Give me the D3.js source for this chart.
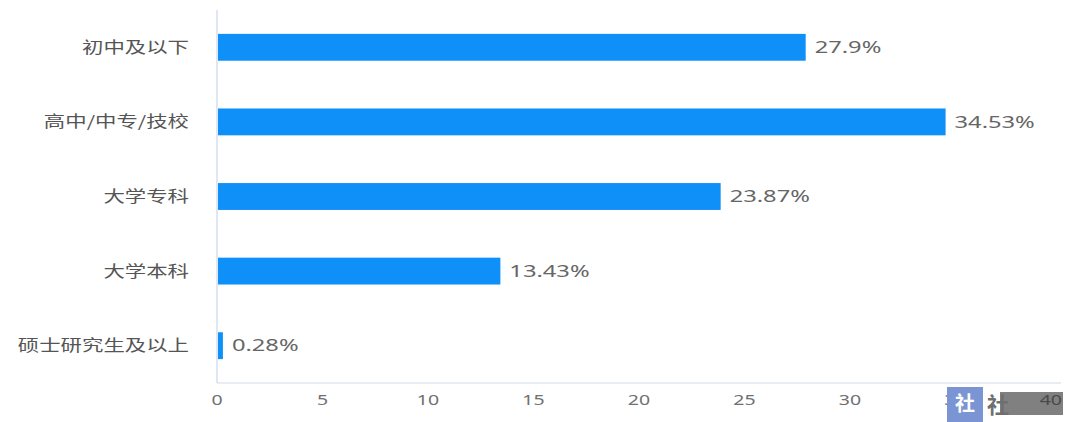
<!DOCTYPE html>
<html><head><meta charset="utf-8">
<script src="https://cdn.jsdelivr.net/npm/d3@7"></script>
<style>html,body{margin:0;padding:0;background:#fff;}svg{display:block;}</style>
</head><body>
<svg id="c" width="1080" height="422"></svg>
<script>
const categories = ["初中及以下","高中/中专/技校","大学专科","大学本科","硕士研究生及以上"];
const values = [27.9, 34.53, 23.87, 13.43, 0.28];
const valueLabels = ["27.9%","34.53%","23.87%","13.43%","0.28%"];
const xTicks = [0,5,10,15,20,25,30,35,40];

(function(){
const svg = d3.select("#c");
const mL = 217, mR = 1061, mT = 10, mB = 383;
const x = d3.scaleLinear().domain([0,40]).range([mL,mR]);
const y = d3.scaleBand().domain(categories).range([mT,mB]).paddingInner(0.64).paddingOuter(0.32);
const font = "'Noto Sans CJK SC','Noto Sans',sans-serif";
const numFont = "'Noto Sans','DejaVu Sans',sans-serif";

function stretch(sel, k){
  sel.each(function(){
    const w = this.getComputedTextLength();
    d3.select(this).attr("textLength", w*k).attr("lengthAdjust","spacingAndGlyphs");
  });
}

svg.append("line").attr("x1",mL).attr("x2",mR).attr("y1",mB).attr("y2",mB).attr("stroke","#e1e6f0").attr("stroke-width",1.5);
svg.append("line").attr("x1",mL).attr("x2",mL).attr("y1",mT).attr("y2",mB).attr("stroke","#d6dff0").attr("stroke-width",1.5);

const last = xTicks[xTicks.length-1];
const xt = svg.selectAll(".xt").data(xTicks).enter().append("text")
  .attr("class","xt")
  .attr("x",d=>d===last ? x(d)+1 : x(d)).attr("y",405)
  .attr("text-anchor",d=>d===last ? "end" : "middle")
  .attr("font-family",numFont).attr("font-size",15)
  .attr("fill",d=>d===last ? "#4a4a4a" : "#707070").text(d=>d);
stretch(xt, 1.3);

const cl = svg.selectAll(".cl").data(categories).enter().append("text")
  .attr("x",189).attr("y",d=>y(d)+y.bandwidth()/2).attr("dy","0.36em").attr("text-anchor","end")
  .attr("font-family",font).attr("font-size",15.5).attr("fill","#555").text(d=>d);
stretch(cl, 1.38);

svg.selectAll(".b").data(values).enter().append("rect")
  .attr("x",x(0)+1).attr("y",(d,i)=>y(categories[i]))
  .attr("width",d=>x(d)-x(0)-1).attr("height",y.bandwidth()).attr("fill","#0f8ff8");

const vl = svg.selectAll(".vl").data(values).enter().append("text")
  .attr("x",d=>x(d)+9).attr("y",(d,i)=>y(categories[i])+y.bandwidth()/2).attr("dy","0.36em")
  .attr("font-family",numFont).attr("font-size",16).attr("fill","#666").text((d,i)=>valueLabels[i]);
stretch(vl, 1.48);

// watermark (covers part of the axis labels, as in the reference)
svg.append("rect").attr("x",947).attr("y",387).attr("width",36).attr("height",35).attr("fill","#7b94d3");
svg.append("text").attr("x",965).attr("y",411).attr("text-anchor","middle").attr("font-family",font).attr("font-weight","bold").attr("font-size",20).attr("fill","#fff").text("社");
svg.append("rect").attr("x",1000).attr("y",392).attr("width",63).attr("height",23).attr("fill","#808080");
svg.append("text").attr("x",998).attr("y",413).attr("text-anchor","middle").attr("font-family",font).attr("font-weight","bold").attr("font-size",22).attr("fill","#6f6f6f").text("社");
xt.filter(d=>d===last).raise();
})();
</script>
</body></html>
